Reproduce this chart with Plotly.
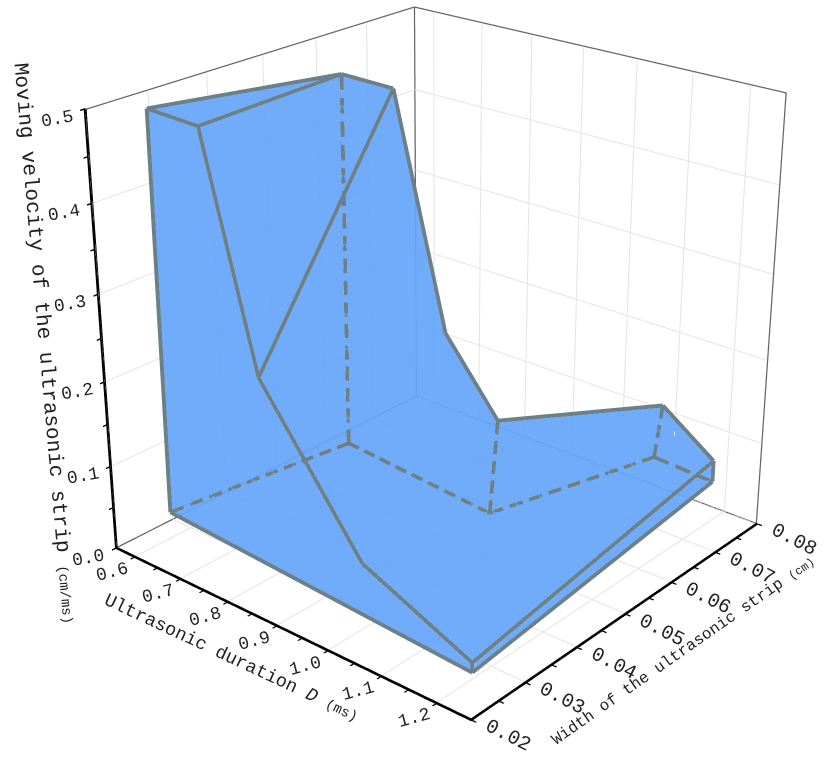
import plotly.graph_objects as go

# axis ticks
x_major = [0.6, 0.7, 0.8, 0.9, 1.0, 1.1, 1.2]
x_minor = [0.65, 0.75, 0.85, 0.95, 1.05, 1.15]
y_major = [0.02, 0.03, 0.04, 0.05, 0.06, 0.07, 0.08]
y_minor = [0.025, 0.035, 0.045, 0.055, 0.065, 0.075]
z_major = [0.0, 0.1, 0.2, 0.3, 0.4, 0.5]
z_minor = [0.05, 0.15, 0.25, 0.35, 0.45]
x_labels = ["0.6", "0.7", "0.8", "0.9", "1.0", "1.1", "1.2"]
y_labels = ["0.02", "0.03", "0.04", "0.05", "0.06", "0.07", "0.08"]
z_labels = ["0.0", "0.1", "0.2", "0.3", "0.4", "0.5"]
x_range = [0.558, 1.26]
y_range = [0.02, 0.08]
z_range = [0.0, 0.5]

# solid: outline on the base plane and the points above it
# order  A      B      C      D      E      F
base_x = [0.619, 0.669, 0.989, 1.072, 1.189, 1.246]
base_y = [0.0251, 0.0547, 0.0519, 0.0788, 0.0780, 0.0216]
base_z = 0.042
top_x = [0.619, 0.669, 0.996, 1.084, 1.189, 1.246]
top_y = [0.0251, 0.0547, 0.0526, 0.0788, 0.0780, 0.0216]
top_z = [0.499, 0.484, 0.153, 0.110, 0.068, 0.053]
# points on the top edge of the front wall (A to F)
front_x = [0.729, 0.835, 1.038]
front_y = [0.0245, 0.0239, 0.0228]
front_z = [0.499, 0.254, 0.100]
# points on the top edge of the back wall (B to C)
back_x = [0.784, 0.893]
back_y = [0.0536, 0.0527]
back_z = [0.487, 0.233]

EDGE = "#6b8088"
GRID = "#e6e3e3"
FONT = "Liberation Mono"
DASH_ON = 0.036
DASH_OFF = 0.017

# vertex table, 0-5 base, 6-11 tops, 12-14 front wall, 15-16 back wall
vx = base_x + top_x + front_x + back_x
vy = base_y + top_y + front_y + back_y
vz = [base_z] * 6 + top_z + front_z + back_z

solid_edges = [(6, 7), (7, 12), (6, 12), (12, 13), (13, 14), (14, 11), (13, 15), (7, 15), (15, 16),
               (16, 8), (8, 9), (9, 10), (10, 11), (10, 4), (4, 5), (5, 11), (5, 0), (0, 6)]
dash_edges = [(0, 1), (1, 2), (2, 3), (3, 4), (1, 7), (2, 8), (3, 9)]
# only the far faces are filled so that one layer of colour shows
tri_i = [5, 5, 5, 5, 0, 0, 1, 1, 1, 1, 2, 2, 3, 3]
tri_j = [0, 1, 2, 3, 1, 7, 2, 8, 16, 15, 3, 9, 4, 10]
tri_k = [1, 2, 3, 4, 7, 6, 8, 16, 15, 7, 9, 8, 10, 9]

x0, x1 = x_range
y0, y1 = y_range
z0, z1 = z_range


def edge_xyz(edges):
    xs, ys, zs = [], [], []
    for a, b in edges:
        xs += [vx[a], vx[b], None]
        ys += [vy[a], vy[b], None]
        zs += [vz[a], vz[b], None]
    return xs, ys, zs


def dashed_xyz(edges):
    # plotly's 3d dash patterns are too short or too sparse here, so cut the edges by hand
    xs, ys, zs = [], [], []
    for a, b in edges:
        dx, dy, dz = vx[b] - vx[a], vy[b] - vy[a], vz[b] - vz[a]
        length = ((dx / (x1 - x0)) ** 2 + (dy / (y1 - y0)) ** 2 + (dz / (z1 - z0)) ** 2) ** 0.5
        n = max(1, round((length + DASH_OFF) / (DASH_ON + DASH_OFF)))
        step = length / (n * DASH_ON + (n - 1) * DASH_OFF)
        on, off = DASH_ON * step / length, DASH_OFF * step / length
        for k in range(n):
            t0 = k * (on + off)
            xs += [vx[a] + dx * t0, vx[a] + dx * (t0 + on), None]
            ys += [vy[a] + dy * t0, vy[a] + dy * (t0 + on), None]
            zs += [vz[a] + dz * t0, vz[a] + dz * (t0 + on), None]
    return xs, ys, zs


def lines3d(xs, ys, zs, color, width):
    return go.Scatter3d(x=xs, y=ys, z=zs, mode="lines", hoverinfo="skip", line=dict(color=color, width=width))


# lines exactly on the range limit get clipped away, keep walls just inside
wx0, wx1 = x0 + 0.0007, x1 - 0.0007
wy0, wy1 = y0 + 0.00006, y1 - 0.00006
wz0, wz1 = z0 + 0.0005, z1 - 0.0005

gx, gy, gz = [], [], []
for v in x_major:
    gx += [v, v, None, v, v, None]
    gy += [wy1, wy1, None, wy0, wy1, None]
    gz += [wz0, wz1, None, wz0, wz0, None]
for v in y_major:
    v = min(max(v, wy0), wy1)
    gx += [wx0, wx0, None, wx0, wx1, None]
    gy += [v, v, None, v, v, None]
    gz += [wz0, wz1, None, wz0, wz0, None]
for v in z_major[1:-1]:
    gx += [wx0, wx0, None, wx0, wx1, None]
    gy += [wy0, wy1, None, wy1, wy1, None]
    gz += [v, v, None, v, v, None]

bx = [wx0, wx0, wx1, None, wx0, wx0, wx1, wx1, None, wx0, wx0]
by = [wy0, wy1, wy1, None, wy0, wy1, wy1, wy1, None, wy1, wy1]
bz = [wz0, wz0, wz0, None, wz1, wz1, wz1, wz0, None, wz0, wz1]

fig = go.Figure()
fig.add_trace(lines3d(gx, gy, gz, GRID, 2))
fig.add_trace(lines3d(bx, by, bz, "#666666", 2.5))
fig.add_trace(go.Mesh3d(x=vx, y=vy, z=vz, i=tri_i, j=tri_j, k=tri_k, color="rgb(101,165,250)",
                        opacity=0.92, flatshading=True, hoverinfo="skip",
                        lighting=dict(ambient=1, diffuse=0, specular=0, fresnel=0)))
fig.add_trace(lines3d(*edge_xyz(solid_edges), EDGE, 8))
fig.add_trace(lines3d(*dashed_xyz(dash_edges), EDGE, 8))


def axis_style(rng, ticks):
    return dict(range=rng, tickmode="array", tickvals=ticks, ticktext=[""] * len(ticks), showticklabels=False,
                ticks="outside", ticklen=5, tickwidth=3, tickcolor="black", showline=True, linecolor="black",
                linewidth=6, showgrid=False, zeroline=False, showbackground=False, showspikes=False,
                title=dict(text=""))


anns = []


def note(x, y, z, text, angle, size, dx, dy):
    anns.append(dict(x=x, y=y, z=z, text=text, textangle=angle, showarrow=False, xshift=dx, yshift=-dy,
                     font=dict(family=FONT, size=size, color="#222222")))


for v, t in zip(x_major, x_labels):
    note(v, y0, z0, t, -15, 18, -23, 15)
for v, t in zip(y_major, y_labels):
    note(x1, v, z0, t, 27, 20, 37, 16)
for v, t in zip(z_major, z_labels):
    note(x0, y0, v, t, -10, 18, -28, 10)
note(0.9, y0, z0, "Ultrasonic duration <i>D</i> <span style=\"font-size:14px\">(ms)</span>", 25, 18.5, -46, 33)
note(x1, 0.05, z0, "Width of the ultrasonic strip <span style=\"font-size:12px\">(cm)</span>", -35, 16, 58, 37)
note(x0, y0, 0.25, "Moving velocity of the ultrasonic strip <span style=\"font-size:14px\">(cm/ms)</span>", 85, 21, -57, 5)

fig.update_layout(
    width=1758, height=1758, autosize=False, showlegend=False,
    margin=dict(l=0, r=0, t=0, b=0, pad=0), paper_bgcolor="white",
    scene=dict(
        domain=dict(x=[0, 1], y=[0, 1]),
        xaxis=axis_style(x_range, x_major + x_minor),
        yaxis=axis_style(y_range, y_major + y_minor),
        zaxis=axis_style(z_range, z_major + z_minor),
        aspectmode="manual", aspectratio=dict(x=1, y=0.992, z=0.997),
        camera=dict(eye=dict(x=2.637, y=-3.095, z=1.81), center=dict(x=0, y=0, z=0), up=dict(x=0, y=0, z=1)),
        annotations=anns,
    ),
)

# plotly fixes the lens, so a weaker perspective needs a bigger scene with the page window on its middle
shift = ("var g=document.getElementById('{plot_id}');g.style.position='absolute';"
         "g.style.left='-439px';g.style.top='-551px';document.body.style.overflow='hidden';")
fig.write_html("out.html", post_script=shift, config=dict(displayModeBar=False))
